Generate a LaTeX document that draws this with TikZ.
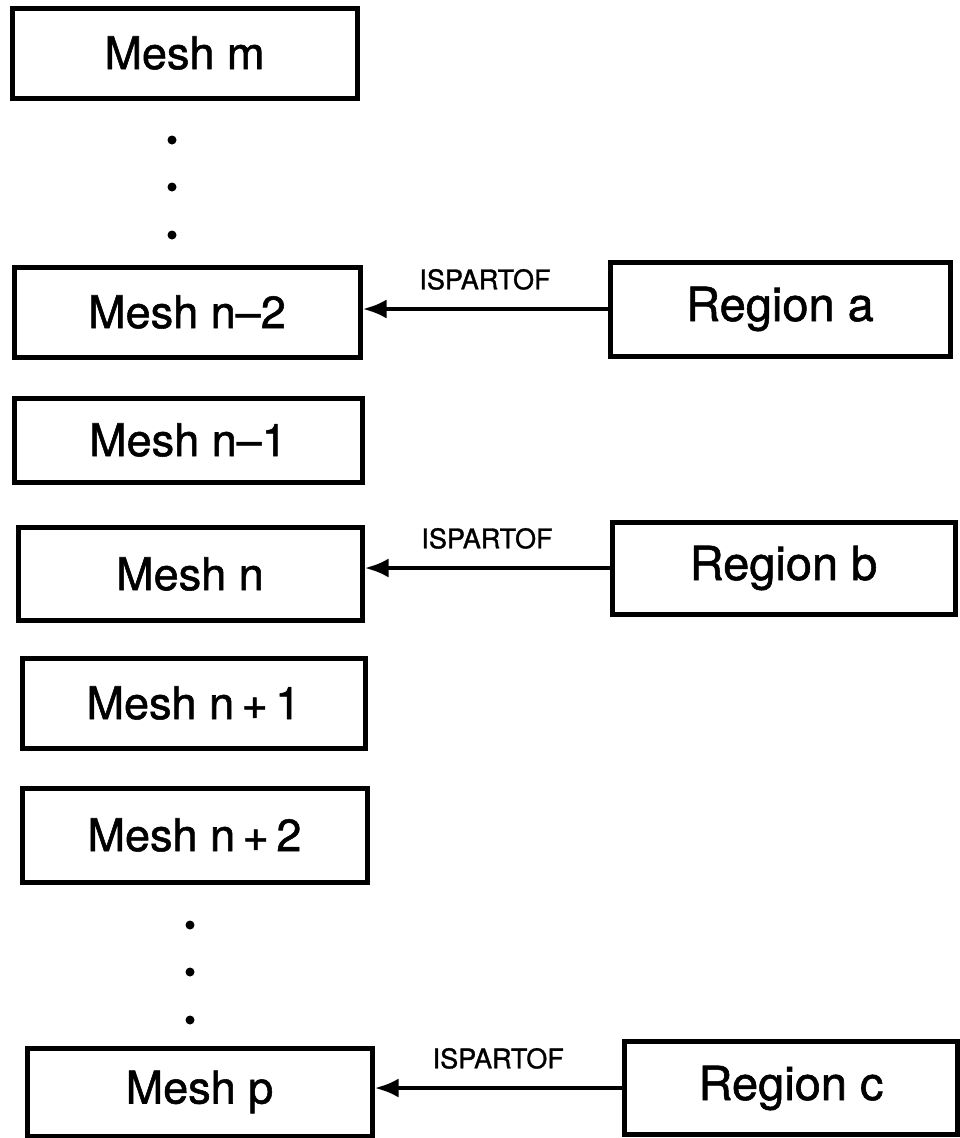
\documentclass[tikz,border=0pt]{standalone}
\usepackage{fontspec}
\setmainfont{TeX Gyre Heros}[FakeBold=1.2]
\usetikzlibrary{arrows.meta}
\begin{document}
\begin{tikzpicture}[x=1pt,y=-1pt,
  meshbox/.style={draw,line width=5pt,inner sep=0pt,font=\fontsize{45}{50}\selectfont},
  regionbox/.style={draw,line width=5pt,inner sep=0pt,font=\fontsize{47}{52}\selectfont},
  relarrow/.style={line width=4.5pt,-{Latex[length=24pt,width=19pt]}},
  rellabel/.style={font=\fontsize{27}{30}\selectfont,anchor=south,inner sep=0pt},
  vdot/.style={circle,fill,inner sep=0pt,minimum size=9pt}]
\useasboundingbox (0,0) rectangle (960,1138);

% column of meshes
\node[meshbox,minimum width=345pt,minimum height=90pt] (mm)  at (184.5,53)  {Mesh m};
\node[meshbox,minimum width=346pt,minimum height=90pt] (mn2) at (187,312)   {Mesh n--2};
\node[meshbox,minimum width=348pt,minimum height=84pt] (mn1) at (188,440)   {Mesh n--1};
\node[meshbox,minimum width=344pt,minimum height=93pt] (mn)  at (190,574)   {Mesh n};
\node[meshbox,minimum width=343pt,minimum height=90pt] (mp1) at (193.5,703) {Mesh n\,+\,1};
\node[meshbox,minimum width=345pt,minimum height=94pt] (mp2) at (194.5,835) {Mesh n\,+\,2};
\node[meshbox,minimum width=345pt,minimum height=88pt] (mp)  at (199.5,1092){Mesh p};

% ellipsis dots
\node[vdot] (d1) at (172,140) {};
\node[vdot] (d2) at (172,187) {};
\node[vdot] (d3) at (172,235) {};
\node[vdot] (d4) at (190,925) {};
\node[vdot] (d5) at (190,972) {};
\node[vdot] (d6) at (190,1020) {};

% regions
\node[regionbox,minimum width=340pt,minimum height=94pt] (ra) at (780,309)   {Region a};
\node[regionbox,minimum width=343pt,minimum height=92pt] (rb) at (783.5,568) {Region b};
\node[regionbox,minimum width=333pt,minimum height=93pt] (rc) at (791,1088)  {Region c};

% ISPARTOF relations
\draw[relarrow] (ra.west) -- (ra.west -| mn2.east)
  node[rellabel,midway,above=17pt] (la) {ISPARTOF};
\draw[relarrow] (rb.west) -- (rb.west -| mn.east)
  node[rellabel,midway,above=17pt] (lb) {ISPARTOF};
\draw[relarrow] (rc.west) -- (rc.west -| mp.east)
  node[rellabel,midway,above=17pt] (lc) {ISPARTOF};
\end{tikzpicture}
\end{document}
